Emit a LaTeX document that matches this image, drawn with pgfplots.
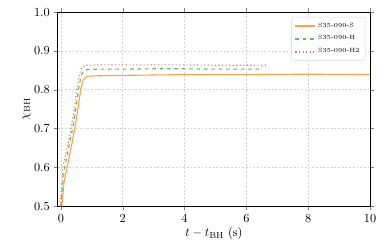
\documentclass[border=0pt]{standalone}
\usepackage{pgfplots}
\pgfplotsset{compat=1.18}
\definecolor{cS}{RGB}{255,160,80}
\definecolor{cH}{RGB}{98,185,98}
\definecolor{cHH}{RGB}{232,112,112}
\begin{document}
\begin{tikzpicture}
\path[use as bounding box] (-47pt,-30pt) rectangle (269.4pt,167.8pt);
\begin{axis}[
  at={(0,0)}, anchor=south west,
  scale only axis, width=254pt, height=158pt,
  xmin=-0.1, xmax=10, ymin=0.5, ymax=1.0,
  xtick={0,2,4,6,8,10}, ytick={0.5,0.6,0.7,0.8,0.9,1.0},
  yticklabel style={/pgf/number format/fixed, /pgf/number format/fixed zerofill, /pgf/number format/precision=1},
  tick align=outside, tick pos=both,
  major tick length=3pt,
  axis line style={line width=0.8pt},
  grid=major, major grid style={gray!35, dash pattern=on 1.5pt off 1.5pt, line width=0.5pt},
  xlabel={$t - t_{\rm BH}$ (s)},
  ylabel={$\chi_{\rm BH}$},
  xlabel style={yshift=3pt},
  ylabel style={yshift=-4pt},
  legend style={at={(0.985,0.975)}, anchor=north east, font=\tiny, draw=gray!30, rounded corners=2pt, inner sep=2.5pt, row sep=1.5pt},
  legend cell align=left,
  legend image code/.code={\draw[#1, line width=1.5pt, rounded corners=0pt] (0cm,0cm) -- (0.55cm,0cm);},
]
\addplot[color=cS, line width=0.9pt] coordinates {
(0.03,0.5) (0.1,0.56) (0.2,0.6) (0.33,0.65) (0.45,0.7) (0.55,0.75) (0.64,0.8) (0.72,0.825) (0.8,0.832) (0.9,0.835) (1.2,0.836) (2,0.837) (3,0.838) (4,0.839) (6,0.839) (8,0.84) (10,0.839)
};
\addlegendentry{S35-090-S}
\addplot[color=cH, line width=0.9pt, dashed] coordinates {
(0.0,0.5) (0.05,0.55) (0.12,0.6) (0.25,0.65) (0.38,0.7) (0.48,0.75) (0.57,0.8) (0.65,0.835) (0.72,0.847) (0.85,0.852) (1.2,0.853) (2,0.853) (3,0.854) (4,0.854) (5,0.853) (6.4,0.853)
};
\addlegendentry{S35-090-H}
\addplot[color=cHH, line width=0.9pt, dotted] coordinates {
(-0.02,0.5) (0.02,0.55) (0.06,0.6) (0.2,0.65) (0.33,0.7) (0.43,0.75) (0.52,0.8) (0.6,0.84) (0.68,0.858) (0.8,0.863) (1.2,0.864) (2,0.864) (3,0.864) (4,0.864) (5,0.863) (6.7,0.863)
};
\addlegendentry{S35-090-H2}
\end{axis}
\end{tikzpicture}
\end{document}
